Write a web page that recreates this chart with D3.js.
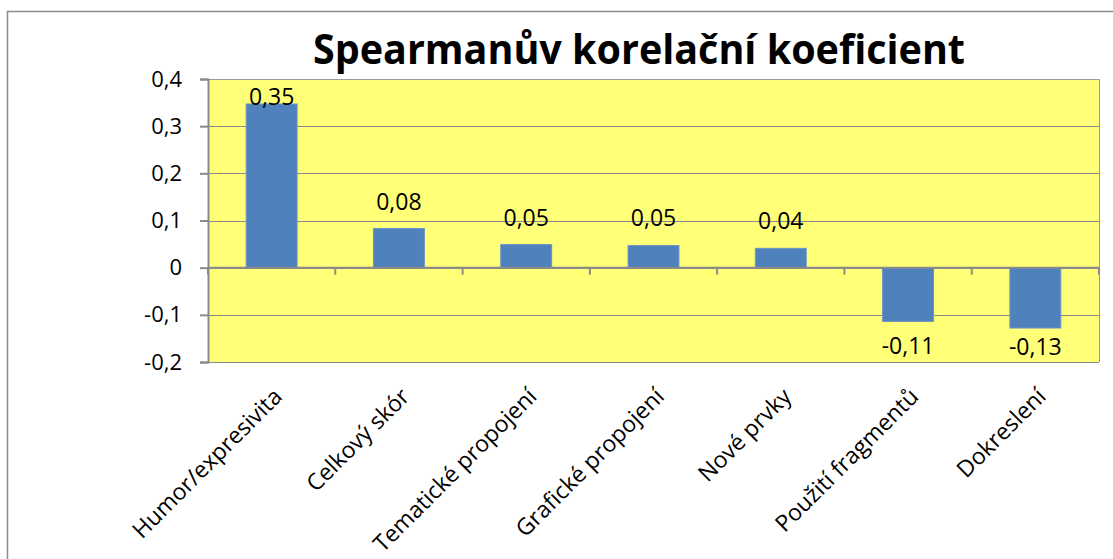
<!DOCTYPE html>
<html>
<head>
  <meta charset="utf-8">
  <script src="https://d3js.org/d3.v7.min.js"></script>
  <style>
    body { margin: 0; background: #fff; }
    text { font-family: "Open Sans", sans-serif; fill: #000; }
  </style>
</head>
<body>
<script>
  // chart data
  var categories = ["Humor/expresivita", "Celkový skór", "Tematické propojení",
    "Grafické propojení", "Nové prvky", "Použití fragmentů", "Dokreslení"];
  var values = [0.347, 0.083, 0.049, 0.047, 0.041, -0.114, -0.128];
  var valueLabels = ["0,35", "0,08", "0,05", "0,05", "0,04", "-0,11", "-0,13"];
  var yTicks = [0.4, 0.3, 0.2, 0.1, 0, -0.1, -0.2];
  var yTickLabels = ["0,4", "0,3", "0,2", "0,1", "0", "-0,1", "-0,2"];
  var title = "Spearmanův korelační koeficient";

  var W = 1113, H = 559;
  var plot = { left: 208, top: 79, right: 1099, bottom: 362 };

  var svg = d3.select("body").append("svg")
    .attr("width", W).attr("height", H);

  // outer chart border
  svg.append("rect")
    .attr("x", 7.5).attr("y", 11.5)
    .attr("width", W + 20).attr("height", H + 20)
    .attr("fill", "#fff").attr("stroke", "#8c8c8c").attr("stroke-width", 1.5);

  var x = d3.scaleBand()
    .domain(categories)
    .range([plot.left, plot.right])
    .paddingInner(0.6).paddingOuter(0.3);
  var step = (plot.right - plot.left) / categories.length;

  var y = d3.scaleLinear()
    .domain([-0.2, 0.4])
    .range([plot.bottom, plot.top]);

  // plot area
  svg.append("rect")
    .attr("x", plot.left).attr("y", plot.top)
    .attr("width", plot.right - plot.left).attr("height", plot.bottom - plot.top)
    .attr("fill", "#ffff78");

  // gridlines
  svg.append("g").selectAll("line")
    .data(yTicks)
    .join("line")
      .attr("x1", plot.left).attr("x2", plot.right)
      .attr("y1", function (d) { return Math.round(y(d)) + 0.5; })
      .attr("y2", function (d) { return Math.round(y(d)) + 0.5; })
      .attr("stroke", "#8a8a8a").attr("stroke-width", 1);

  // plot border top/right
  svg.append("path")
    .attr("d", "M" + plot.left + "," + (plot.top + 0.5) + "H" + (plot.right + 0.5) + "V" + plot.bottom)
    .attr("fill", "none").attr("stroke", "#9a9a9a");

  // y axis
  var yAxis = d3.axisLeft(y)
    .tickValues(yTicks)
    .tickSize(8)
    .tickPadding(18)
    .tickFormat(function (d, i) { return yTickLabels[i]; });
  var gy = svg.append("g")
    .attr("transform", "translate(" + plot.left + ",0)")
    .call(yAxis);
  gy.select(".domain").attr("stroke", "#8a8a8a").attr("stroke-width", 2);
  gy.selectAll(".tick line").attr("stroke", "#8a8a8a").attr("stroke-width", 2);
  gy.selectAll(".tick text")
    .attr("font-size", 22)
    .attr("font-family", "Open Sans, sans-serif")
    .attr("fill", "#000");

  // bars
  svg.append("g").selectAll("rect")
    .data(values)
    .join("rect")
      .attr("x", function (d, i) { return x(categories[i]); })
      .attr("width", x.bandwidth())
      .attr("y", function (d) { return y(Math.max(0, d)); })
      .attr("height", function (d) { return Math.abs(y(d) - y(0)); })
      .attr("fill", "#4f81bd")
      .attr("stroke", "#6d94c4").attr("stroke-width", 1);

  // category axis at zero
  svg.append("line")
    .attr("x1", plot.left).attr("x2", plot.right)
    .attr("y1", y(0)).attr("y2", y(0))
    .attr("stroke", "#8a8a8a").attr("stroke-width", 2);
  svg.append("g").selectAll("line")
    .data(d3.range(categories.length + 1))
    .join("line")
      .attr("x1", function (i) { return plot.left + i * step; })
      .attr("x2", function (i) { return plot.left + i * step; })
      .attr("y1", y(0)).attr("y2", y(0) + 7)
      .attr("stroke", "#8a8a8a").attr("stroke-width", 2);

  // data labels
  svg.append("g").selectAll("text")
    .data(values)
    .join("text")
      .attr("x", function (d, i) { return x(categories[i]) + x.bandwidth() / 2; })
      .attr("y", function (d) {
        return d >= 0 ? Math.max(y(d) - 19, plot.top + 26) : Math.min(y(d) + 33, plot.bottom - 7);
      })
      .attr("text-anchor", "middle")
      .attr("font-size", 23)
      .text(function (d, i) { return valueLabels[i]; });

  // category labels
  svg.append("g").selectAll("text")
    .data(categories)
    .join("text")
      .attr("transform", function (d) {
        var cx = x(d) + x.bandwidth() / 2 + 12;
        return "translate(" + cx + ",398) rotate(-45)";
      })
      .attr("text-anchor", "end")
      .attr("font-size", 23)
      .text(function (d) { return d; });

  // title
  svg.append("text")
    .attr("x", 639).attr("y", 64)
    .attr("text-anchor", "middle")
    .attr("font-size", 42)
    .attr("font-weight", "bold")
    .attr("textLength", 652)
    .attr("lengthAdjust", "spacingAndGlyphs")
    .text(title);
</script>
</body>
</html>
